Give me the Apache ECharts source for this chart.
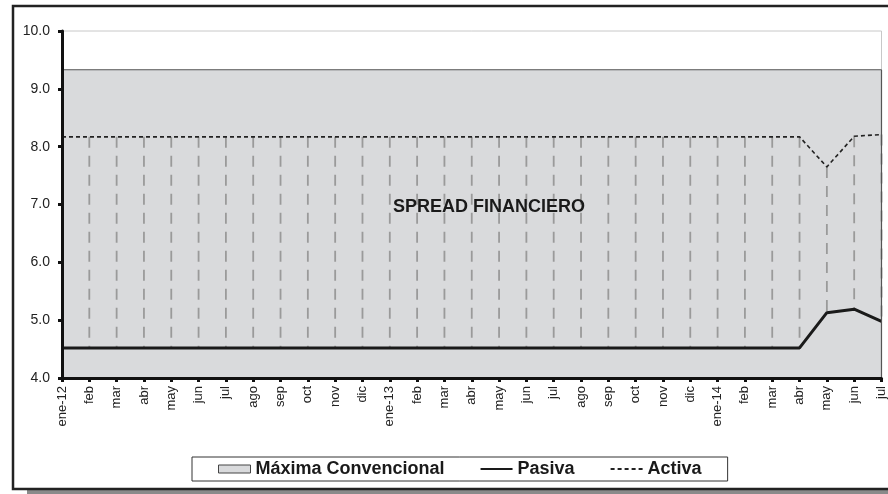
<!DOCTYPE html>
<html>
<head>
<meta charset="utf-8">
<script src="https://cdn.jsdelivr.net/npm/echarts@6/dist/echarts.min.js"></script>
<style>
  html, body { margin: 0; padding: 0; background: #fff; }
  #chart { width: 888px; height: 494px; }
</style>
</head>
<body>
<div id="chart"></div>
<script>
// meses ene-12 .. jul-14
var meses = ['ene-12','feb','mar','abr','may','jun','jul','ago','sep','oct','nov','dic',
  'ene-13','feb','mar','abr','may','jun','jul','ago','sep','oct','nov','dic',
  'ene-14','feb','mar','abr','may','jun','jul'];
// tasa maxima convencional
var maxima = [9.33,9.33,9.33,9.33,9.33,9.33,9.33,9.33,9.33,9.33,9.33,9.33,
  9.33,9.33,9.33,9.33,9.33,9.33,9.33,9.33,9.33,9.33,9.33,9.33,
  9.33,9.33,9.33,9.33,9.33,9.33,9.33];
// tasa pasiva
var pasiva = [4.52,4.52,4.52,4.52,4.52,4.52,4.52,4.52,4.52,4.52,4.52,4.52,
  4.52,4.52,4.52,4.52,4.52,4.52,4.52,4.52,4.52,4.52,4.52,4.52,
  4.52,4.52,4.52,4.52,5.13,5.19,4.98];
// tasa activa
var activa = [8.17,8.17,8.17,8.17,8.17,8.17,8.17,8.17,8.17,8.17,8.17,8.17,
  8.17,8.17,8.17,8.17,8.17,8.17,8.17,8.17,8.17,8.17,8.17,8.17,
  8.17,8.17,8.17,8.17,7.65,8.18,8.21];
var yTicks = [4, 5, 6, 7, 8, 9, 10];

var chart = echarts.init(document.getElementById('chart'));
var fuente = 'Liberation Sans, Arial, sans-serif';
var ultimo = meses.length - 1;

var option = {
  animation: false,
  textStyle: { fontFamily: fuente },
  // el borde del grid hace de linea de 10.0
  grid: { left: 62, right: 5, top: 31, bottom: 116, show: true, borderColor: '#c8c8c8', borderWidth: 1 },
  graphic: [
    // sombra y marco exterior
    { type: 'rect', shape: { x: 27, y: 489, width: 880, height: 6 }, style: { fill: '#8a8a8a' }, silent: true },
    { type: 'rect', shape: { x: 13, y: 6, width: 890, height: 483 }, style: { fill: 'none', stroke: '#222', lineWidth: 2.5 }, silent: true },
    { type: 'text', left: 393, top: 198, z: 100,
      style: { text: 'SPREAD FINANCIERO', font: 'bold 18px ' + fuente, fill: '#1a1a1a' } }
  ],
  legend: {
    left: 192, top: 457,
    padding: [3, 26, 3, 26],
    itemGap: 35,
    itemWidth: 32, itemHeight: 8,
    borderColor: '#333', borderWidth: 1,
    textStyle: { fontSize: 18, fontWeight: 'bold', color: '#1a1a1a', fontFamily: fuente },
    selectedMode: false,
    data: [
      { name: 'Máxima Convencional', icon: 'rect', itemStyle: { color: '#d9dadc', borderColor: '#444', borderWidth: 1 } },
      { name: 'Pasiva', itemStyle: { opacity: 0 } },
      { name: 'Activa', itemStyle: { opacity: 0 } }
    ]
  },
  xAxis: {
    type: 'category',
    data: meses,
    boundaryGap: false,
    z: 10,
    axisLine: { lineStyle: { color: '#111', width: 3 } },
    axisTick: { show: true, interval: 0, length: 4, lineStyle: { color: '#111', width: 3 } },
    axisLabel: { interval: 0, rotate: 90, fontSize: 13, color: '#222', margin: 8 },
    splitLine: { show: false }
  },
  yAxis: {
    type: 'value',
    min: yTicks[0], max: yTicks[yTicks.length - 1], interval: 1,
    z: 10,
    axisLine: { show: true, lineStyle: { color: '#111', width: 3 } },
    axisTick: { show: true, length: 4, lineStyle: { color: '#111', width: 3 } },
    axisLabel: { fontSize: 14, color: '#222', margin: 12, formatter: function (v) { return v.toFixed(1); } },
    splitLine: { show: false }
  },
  series: [
    {
      name: 'Máxima Convencional',
      type: 'line',
      data: maxima,
      symbol: 'none',
      itemStyle: { color: '#d9dadc' },
      lineStyle: { color: '#555', width: 1.2 },
      areaStyle: { color: '#d9dadc', opacity: 1, origin: 'start' },
      markLine: {
        silent: true, symbol: 'none', label: { show: false },
        lineStyle: { color: '#555', width: 1.2, type: 'solid' },
        data: [[{ coord: [ultimo, yTicks[0]] }, { coord: [ultimo, maxima[ultimo]] }]]
      },
      z: 1
    },
    {
      // lineas de unión entre activa y pasiva
      name: 'union',
      type: 'custom',
      data: meses.map(function (m, i) { return [i, activa[i], pasiva[i]]; }),
      renderItem: function (params, api) {
        var a = api.coord([api.value(0), api.value(1)]);
        var b = api.coord([api.value(0), api.value(2)]);
        return {
          type: 'line',
          shape: { x1: a[0], y1: a[1], x2: b[0], y2: b[1] },
          style: { stroke: '#9a9a9a', lineWidth: 1.8, lineDash: [11, 8] }
        };
      },
      z: 2
    },
    {
      name: 'Activa',
      type: 'line',
      data: activa,
      symbol: 'none',
      itemStyle: { color: '#222' },
      lineStyle: { color: '#222', width: 1.6, type: [4, 3] },
      z: 3
    },
    {
      name: 'Pasiva',
      type: 'line',
      data: pasiva,
      symbol: 'none',
      itemStyle: { color: '#1a1a1a' },
      lineStyle: { color: '#1a1a1a', width: 3 },
      z: 4
    }
  ]
};
chart.setOption(option);
</script>
</body>
</html>
